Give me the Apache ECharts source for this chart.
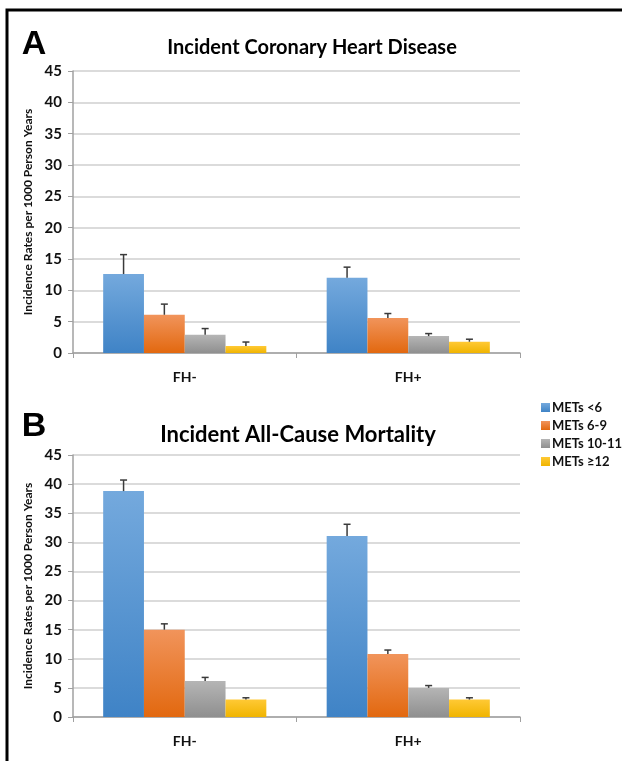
<!DOCTYPE html>
<html>
<head>
<meta charset="utf-8">
<script src="https://cdn.jsdelivr.net/npm/echarts@6/dist/echarts.min.js"></script>
<style>
  html, body { margin: 0; padding: 0; background: #fff; }
  #chart { width: 622px; height: 761px; }
</style>
</head>
<body>
<div id="chart"></div>
<script>
// categories and series
const categories = ["FH-", "FH+"];
const seriesNames = ["METs <6", "METs 6-9", "METs 10-11", "METs \u226512"];
const yTicks = [0, 45, 5]; // min, max, interval

// panel A: incident CHD (one row per series, FH- / FH+)
const chdRates = [[12.6, 12.0], [6.1, 5.6], [2.9, 2.7], [1.1, 1.8]];
const chdUpper = [[15.7, 13.7], [7.8, 6.3], [3.9, 3.1], [1.75, 2.2]];

// panel B: all-cause mortality
const mortRates = [[38.8, 31.1], [15.0, 10.8], [6.2, 5.0], [3.0, 3.0]];
const mortUpper = [[40.7, 33.1], [16.0, 11.5], [6.8, 5.4], [3.3, 3.3]];

const FONT = "Lato";
// top/bottom gradient colours per series
const colors = [
  ["#74a9dd", "#3f83c6"],
  ["#f1945b", "#e2680f"],
  ["#b5b5b5", "#8f8f8f"],
  ["#ffc935", "#f0b400"],
];
const barGapCat = 0.27;

const chart = echarts.init(document.getElementById("chart"), null, { renderer: "canvas" });

function grad(c) {
  return new echarts.graphic.LinearGradient(0, 0, 0, 1, [
    { offset: 0, color: c[0] },
    { offset: 1, color: c[1] },
  ]);
}

function xAxis(gi) {
  return {
    type: "category",
    gridIndex: gi,
    data: categories,
    axisLine: { lineStyle: { color: "#a0a0a0", width: 1.5 } },
    axisTick: { show: true, length: 5, lineStyle: { color: "#a0a0a0" } },
    axisLabel: { color: "#111", fontFamily: FONT, fontWeight: "bold", fontSize: 14, margin: 17 },
  };
}

function yAxis(gi) {
  return {
    type: "value",
    gridIndex: gi,
    min: yTicks[0],
    max: yTicks[1],
    interval: yTicks[2],
    name: "Incidence Rates per 1000 Person Years",
    nameLocation: "middle",
    nameGap: 39,
    nameTextStyle: { color: "#111", fontFamily: FONT, fontWeight: "bold", fontSize: 12 },
    axisLine: { show: true, lineStyle: { color: "#a0a0a0", width: 1.5 } },
    axisTick: { show: true, length: 5, lineStyle: { color: "#a0a0a0" } },
    axisLabel: { color: "#111", fontFamily: FONT, fontWeight: "bold", fontSize: 15, margin: 11 },
    splitLine: { lineStyle: { color: "#cfcfcf", width: 1.5 } },
  };
}

function barSeries(gi, rates) {
  return rates.map((vals, i) => ({
    name: seriesNames[i],
    type: "bar",
    xAxisIndex: gi,
    yAxisIndex: gi,
    barGap: 0,
    barCategoryGap: barGapCat * 100 + "%",
    itemStyle: { color: grad(colors[i]) },
    data: vals,
  }));
}

function errSeries(gi, rates, upper) {
  const data = [];
  rates.forEach((vals, s) => {
    vals.forEach((v, c) => data.push([c, s, v, upper[s][c]]));
  });
  return {
    type: "custom",
    xAxisIndex: gi,
    yAxisIndex: gi,
    z: 5,
    silent: true,
    renderItem(params, api) {
      const base = api.coord([api.value(0), api.value(2)]);
      const top = api.coord([api.value(0), api.value(3)]);
      const bw = (api.size([1, 0])[0] * (1 - barGapCat)) / seriesNames.length;
      const x = base[0] + (api.value(1) - 1.5) * bw;
      const style = { stroke: "#3a3a3a", lineWidth: 1.5 };
      return {
        type: "group",
        children: [
          { type: "line", shape: { x1: x, y1: base[1], x2: x, y2: top[1] }, style },
          { type: "line", shape: { x1: x - 3.5, y1: top[1], x2: x + 3.5, y2: top[1] }, style },
        ],
      };
    },
    data: data,
  };
}

function label(x, y, text, size, family) {
  return {
    type: "text",
    x: x,
    y: y,
    style: {
      text: text,
      fill: "#000",
      font: "bold " + size + "px " + family,
      textAlign: "center",
      textVerticalAlign: "middle",
    },
  };
}

const option = {
  animation: false,
  backgroundColor: "#fff",
  legend: {
    data: seriesNames,
    orient: "vertical",
    left: 536,
    top: 396,
    icon: "rect",
    itemWidth: 9,
    itemHeight: 9,
    itemGap: 5,
    textStyle: { color: "#111", fontFamily: FONT, fontWeight: "bold", fontSize: 13, padding: [0, 0, 0, -3] },
  },
  grid: [
    { left: 73, right: 102, top: 71, bottom: 408 },
    { left: 73, right: 102, top: 455, bottom: 44 },
  ],
  xAxis: [xAxis(0), xAxis(1)],
  yAxis: [yAxis(0), yAxis(1)],
  series: [
    ...barSeries(0, chdRates),
    errSeries(0, chdRates, chdUpper),
    ...barSeries(1, mortRates),
    errSeries(1, mortRates, mortUpper),
  ],
  graphic: [
    {
      type: "rect",
      shape: { x: 7, y: 10, width: 700, height: 800 },
      style: { fill: "none", stroke: "#000", lineWidth: 3 },
    },
    label(34, 45, "A", 34, "Liberation Sans"),
    label(34, 427, "B", 34, "Liberation Sans"),
    label(312, 48, "Incident Coronary Heart Disease", 20, FONT),
    label(298, 435, "Incident All-Cause Mortality", 22, FONT),
  ],
};

chart.setOption(option);
</script>
</body>
</html>
